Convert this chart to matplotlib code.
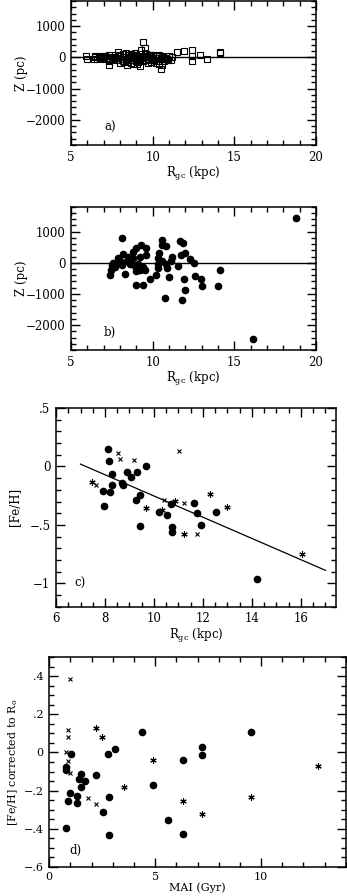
import numpy as np
import matplotlib
matplotlib.use('Agg')
import matplotlib.pyplot as plt
from matplotlib.ticker import MultipleLocator, FuncFormatter

plt.rcParams['font.family'] = 'DejaVu Serif'
plt.rcParams['mathtext.fontset'] = 'dejavuserif'

# panel a) open squares, Rgc (kpc) vs Z (pc)
A_RGC = [5.9, 5.95, 6.4, 6.5, 6.6, 6.7, 6.8, 6.9, 7.0, 7.1, 7.2, 7.3, 7.3, 7.4, 7.5,
         7.6, 7.7, 7.8, 7.9, 7.9, 8.0, 8.0, 8.1, 8.2, 8.2, 8.3, 8.4, 8.4, 8.5, 8.5,
         8.6, 8.7, 8.7, 8.8, 8.8, 8.9, 8.9, 9.0, 9.0, 9.1, 9.1, 9.2, 9.2, 9.25, 9.3,
         9.3, 9.4, 9.4, 9.5, 9.5, 9.6, 9.6, 9.7, 9.7, 9.8, 9.8, 9.9, 9.9, 10.0, 10.0,
         10.1, 10.2, 10.2, 10.3, 10.4, 10.4, 10.5, 10.5, 10.6, 10.6, 10.7, 10.8, 10.9,
         11.0, 11.1, 11.2, 11.5, 11.9, 12.4, 12.4, 12.4, 12.9, 13.3, 14.1, 14.1,
         6.45, 6.75, 7.05, 7.35, 7.65, 7.95, 8.25, 8.55, 8.85, 9.15, 9.45, 9.75,
         10.05, 10.35, 10.65, 10.95, 8.35, 8.65, 9.05, 9.55]
A_Z = [50, -60, -40, 30, -50, 40, -20, 20, -60, 30, -10, -230, 60, -70, 20,
       -40, 80, -100, 170, -20, -180, 50, -60, 100, -120, 20, -230, -50, 80, -140,
       10, -90, 120, -200, 40, -30, 150, -110, 70, -160, 10, -50, 100, -270, 230,
       -20, 480, -120, 290, 40, -80, 120, -190, 20, 60, -60, -140, 90, -30, 30,
       -100, 50, -170, -10, 80, -200, -360, -40, 30, -250, -120, -10, -60,
       40, -80, 20, 170, 200, 240, 40, -120, 60, -60, 170, 130,
       10, -30, 50, -110, -10, 60, -160, -20, 90, -70, 0, -100,
       70, -130, 0, -90, 140, -170, -200, 150]

# panel b) filled circles
B_RGC = [18.78, 16.16, 8.12, 14.12, 14.0, 10.74, 11.82, 11.98, 11.9, 13.04, 12.96,
         12.6, 8.95, 9.4, 9.85, 10.2, 11.0, 8.3, 7.4, 7.45, 7.5, 7.55, 10.6, 10.55,
         10.8, 11.65, 11.85, 11.75, 12.0, 12.3, 12.55, 11.55, 9.3, 9.6, 9.6, 9.0,
         8.8, 9.2, 8.2, 7.9, 7.8, 8.0, 8.4, 8.6, 8.9, 9.1, 8.8, 8.5, 9.4, 9.55, 9.0,
         10.3, 10.35, 10.6, 10.8, 10.9, 11.1, 11.2, 10.4, 10.35, 7.7, 8.1, 8.7, 9.2]
B_Z = [1452, -2443, 796, -245, -745, -1127, -1202, -860, -530, -745, -510,
       -425, -725, -700, -510, -400, -460, -350, -400, -240, -80, -20, 740, 580,
       530, 700, 620, 250, 320, 110, 0, -100, 580, 470, 250, 470,
       360, 200, 270, 150, 0, 70, 50, -50, -100, -50, 150, 200, -150, -230, -250,
       -160, 150, 50, -50, -160, 50, 200, 300, -50, -120, -80, 30, -220]

# panel c) [Fe/H] vs Rgc
C_DOT_R = [8.11, 8.18, 8.27, 7.93, 8.2, 8.29, 7.96, 8.71, 8.75, 8.88, 9.05, 9.32,
           9.67, 9.25, 9.43, 9.43, 10.22, 10.54, 10.69, 10.75, 10.72, 11.63, 11.77,
           11.92, 12.53, 14.19]
C_DOT_FE = [0.148, 0.048, -0.063, -0.213, -0.222, -0.162, -0.34, -0.142, -0.162,
            -0.051, -0.091, -0.051, 0.0, -0.284, -0.241, -0.511, -0.389, -0.418,
            -0.318, -0.517, -0.56, -0.312, -0.398, -0.503, -0.389, -0.966]
C_X_R = [8.53, 8.63, 9.17, 11.03, 7.65, 10.41, 11.22, 11.77]
C_X_FE = [0.119, 0.068, 0.057, 0.136, -0.159, -0.29, -0.313, -0.582]
C_AST_R = [7.47, 9.66, 11.24, 12.27, 12.99, 16.05, 10.84, 10.31]
C_AST_FE = [-0.136, -0.355, -0.582, -0.233, -0.349, -0.747, -0.293, -0.375]
FIT_R = [7.0, 17.0]
FIT_FE = [0.02, -0.889]

# panel d) [Fe/H] corrected to Ro vs MAI
D_DOT_AGE = [0.78, 0.8, 1.02, 0.98, 0.9, 0.79, 1.3, 1.33, 1.38, 1.51, 1.51, 1.7,
             2.19, 2.52, 2.79, 2.81, 2.81, 3.11, 4.4, 4.9, 5.59, 6.3, 6.3, 7.19,
             7.19, 9.52]
D_DOT_FE = [-0.076, -0.09, -0.009, -0.212, -0.253, -0.395, -0.23, -0.265, -0.14,
            -0.111, -0.182, -0.15, -0.12, -0.313, -0.009, -0.232, -0.434, 0.019,
            0.108, -0.172, -0.354, -0.041, -0.427, 0.03, -0.011, 0.108]
D_X_AGE = [0.98, 0.9, 0.9, 0.78, 0.87, 0.98, 1.81, 2.21]
D_X_FE = [0.384, 0.119, 0.08, 0.0035, -0.044, -0.11, -0.24, -0.27]
D_AST_AGE = [2.21, 2.51, 3.52, 4.92, 6.3, 7.19, 9.54, 12.7]
D_AST_FE = [0.131, 0.08, -0.182, -0.041, -0.253, -0.324, -0.235, -0.073]

ASTERISK = (6, 2, 0)


def dot_fmt(v, pos):
    '''
    Rotulos do tipo .5, 0, -.5
    '''
    if abs(v) < 1e-9:
        return '0'
    s = '%g' % v
    s = s.replace('0.', '.')
    return s.replace('-', '\u2212')


def style_axes(ax, xmaj, xmin, ymaj, ymin, lsize=8.5):
    ax.xaxis.set_major_locator(MultipleLocator(xmaj))
    ax.xaxis.set_minor_locator(MultipleLocator(xmin))
    ax.yaxis.set_major_locator(MultipleLocator(ymaj))
    ax.yaxis.set_minor_locator(MultipleLocator(ymin))
    ax.tick_params(which='both', direction='in', top=True, right=True,
                   labelsize=lsize, width=1.0)
    ax.tick_params(which='major', length=6.5, pad=4)
    ax.tick_params(which='minor', length=3.3)
    for sp in ax.spines.values():
        sp.set_linewidth(1.1)


fig = plt.figure(figsize=(3.47, 8.96), dpi=100)

# a)
ax1 = fig.add_axes([0.2046, 0.8382, 0.7061, 0.1607])
ax1.plot(A_RGC, A_Z, 's', mfc='none', mec='black', ms=4.0, mew=0.8)
ax1.axhline(0, color='black', lw=1.0)
ax1.set_xlim(5, 20)
ax1.set_ylim(-2800, 1800)
style_axes(ax1, 5, 1, 1000, 200)
ax1.set_xlabel('R$_{\\rm gc}$ (kpc)', fontsize=8.5, labelpad=1)
ax1.set_ylabel('Z (pc)', fontsize=8.5, labelpad=-2)
ax1.text(7.4, -2240, 'a)', fontsize=8.5, ha='center', va='center')

# b)
ax2 = fig.add_axes([0.2046, 0.6094, 0.7061, 0.1599])
ax2.plot(B_RGC, B_Z, 'o', color='black', ms=4.5)
ax2.axhline(0, color='black', lw=1.0)
ax2.set_xlim(5, 20)
ax2.set_ylim(-2800, 1800)
style_axes(ax2, 5, 1, 1000, 200)
ax2.set_xlabel('R$_{\\rm gc}$ (kpc)', fontsize=8.5, labelpad=1)
ax2.set_ylabel('Z (pc)', fontsize=8.5, labelpad=-2)
ax2.text(7.4, -2240, 'b)', fontsize=8.5, ha='center', va='center')

# c)
ax3 = fig.add_axes([0.1614, 0.3229, 0.8069, 0.2217])
ax3.plot(FIT_R, FIT_FE, color='black', lw=0.9)
ax3.plot(C_DOT_R, C_DOT_FE, 'o', color='black', ms=4.5)
ax3.plot(C_X_R, C_X_FE, 'x', color='black', ms=3.5, mew=0.8)
ax3.plot(C_AST_R, C_AST_FE, ls='none', marker=ASTERISK, color='black', ms=4.5, mew=0.8)
ax3.set_xlim(6, 17.43)
ax3.set_ylim(-1.2, 0.5)
style_axes(ax3, 2, 0.5, 0.5, 0.1)
ax3.yaxis.set_major_formatter(FuncFormatter(dot_fmt))
ax3.set_xlabel('R$_{\\rm gc}$ (kpc)', fontsize=8.5, labelpad=1)
ax3.set_ylabel('[Fe/H]', fontsize=8.5, labelpad=6)
ax3.text(6.98, -1.0, 'c)', fontsize=8.5, ha='center', va='center')

# d)
ax4 = fig.add_axes([0.1421, 0.0327, 0.8542, 0.2337])
ax4.plot(D_DOT_AGE, D_DOT_FE, 'o', color='black', ms=4.5)
ax4.plot(D_X_AGE, D_X_FE, 'x', color='black', ms=3.5, mew=0.8)
ax4.plot(D_AST_AGE, D_AST_FE, ls='none', marker=ASTERISK, color='black', ms=4.5, mew=0.8)
ax4.set_xlim(0, 14)
ax4.set_ylim(-0.6, 0.5)
style_axes(ax4, 5, 1, 0.2, 0.05, lsize=8)
ax4.yaxis.set_major_formatter(FuncFormatter(dot_fmt))
ax4.set_xlabel('MAI (Gyr)', fontsize=8, labelpad=0)
ax4.set_ylabel('[Fe/H] corrected to R$_{\\rm o}$', fontsize=8, labelpad=3)
ax4.text(1.22, -0.513, 'd)', fontsize=8.5, ha='center', va='center')

fig.savefig('out.png', dpi=100)
